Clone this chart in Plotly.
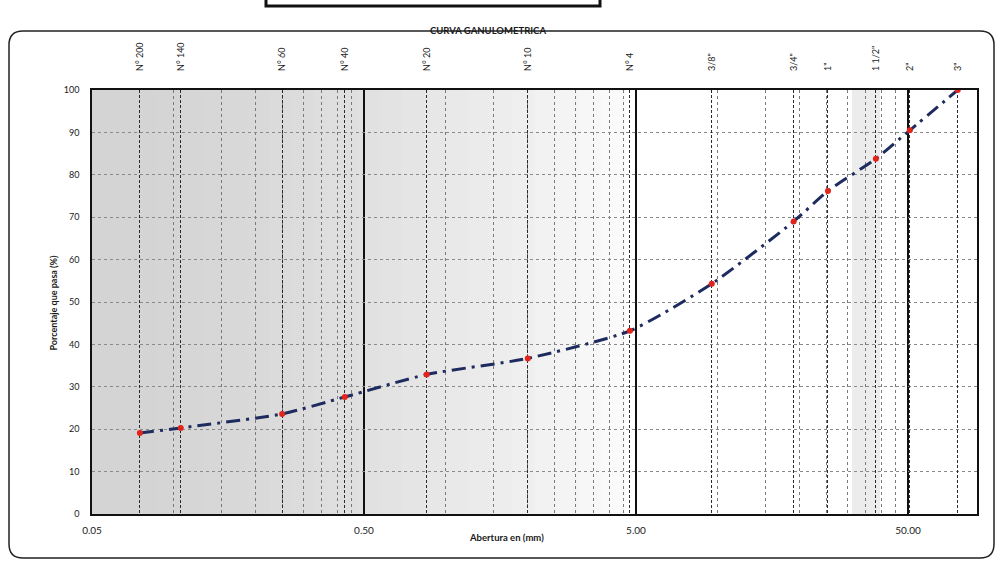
import math
import plotly.graph_objects as go

# Sieve series: name, opening (mm) and percent passing
sieve_names = ["N° 200", "N° 140", "N° 60", "N° 40", "N° 20", "N° 10", "N° 4",
               "3/8\"", "3/4\"", "1\"", "1 1/2\"", "2\"", "3\""]
opening_mm = [0.075, 0.106, 0.25, 0.425, 0.85, 2.0, 4.75,
              9.5, 19.0, 25.4, 38.1, 50.8, 76.2]
percent_passing = [19.1, 20.3, 23.6, 27.6, 32.9, 36.7, 43.2,
                   54.3, 69.0, 76.2, 83.8, 90.5, 100.0]

major_ticks = [0.05, 0.5, 5, 50]
major_labels = ["0.05", "0.50", "5.00", "50.00"]
minor_ticks = [0.05 * k for k in range(2, 10)] + [0.5 * k for k in range(2, 10)] + \
              [5 * k for k in range(2, 10)] + [50 * k for k in range(2, 10)]
y_ticks = list(range(0, 101, 10))

X_MIN, X_MAX = 0.05, 89.7
W, H = 1000, 564
ML, MR, MT, MB = 92, 23, 90, 50
PW, PH = W - ML - MR, H - MT - MB

FONT = "Lato"


def px(x):
    return (x - ML) / PW


def py(y):
    return (H - MB - y) / PH


fig = go.Figure()

# sieve axis along the top (carries the sieve names and their grid lines)
fig.add_trace(go.Scatter(
    x=opening_mm, y=percent_passing, xaxis="x2", yaxis="y",
    mode="markers", marker=dict(opacity=0), hoverinfo="skip", showlegend=False,
))

fig.add_trace(go.Scatter(
    x=opening_mm, y=percent_passing,
    mode="lines+markers",
    line=dict(color="#1d2b5e", width=3, shape="spline", smoothing=0.6,
              dash="14px,6px,3px,6px"),
    marker=dict(color="#e3241b", size=6, symbol="circle"),
    hoverinfo="x+y", showlegend=False,
))

shapes = []

# scanned-paper shading across the finer sieve region
n_strips = 24
for i in range(n_strips):
    t = i / (n_strips - 1)
    g = int(212 + (250 - 212) * t ** 1.6)
    shapes.append(dict(type="rect", xref="paper", yref="paper",
                       x0=i * 0.6 / n_strips, x1=(i + 1) * 0.6 / n_strips + 0.002,
                       y0=0, y1=1, fillcolor=f"rgb({g},{g},{g})",
                       line=dict(width=0), layer="below"))
shapes.append(dict(type="rect", xref="paper", yref="paper",
                   x0=px(852), x1=px(880), y0=0, y1=1,
                   fillcolor="#ececec", line=dict(width=0), layer="below"))

# rounded frame around the chart
r = 14
L, R, T, B = 9, 994, 31, 558
path = (f"M {px(L + r)},{py(T)} L {px(R - r)},{py(T)} "
        f"Q {px(R)},{py(T)} {px(R)},{py(T + r)} "
        f"L {px(R)},{py(B - r)} Q {px(R)},{py(B)} {px(R - r)},{py(B)} "
        f"L {px(L + r)},{py(B)} Q {px(L)},{py(B)} {px(L)},{py(B - r)} "
        f"L {px(L)},{py(T + r)} Q {px(L)},{py(T)} {px(L + r)},{py(T)} Z")
shapes.append(dict(type="path", xref="paper", yref="paper", path=path,
                   line=dict(color="#222222", width=1.5)))

# bottom edge of the box above the chart
top_box = (f"M {px(266)},{py(-4)} L {px(266)},{py(6)} "
           f"L {px(600)},{py(6)} L {px(600)},{py(-4)}")
shapes.append(dict(type="path", xref="paper", yref="paper", path=top_box,
                   line=dict(color="#111111", width=3)))

annotations = [
    dict(text="<b>CURVA GANULOMETRICA</b>", xref="paper", yref="paper",
         x=px(488), y=py(23), showarrow=False,
         font=dict(family=FONT, size=9.5, color="#1a1a1a")),
    dict(text="<b>Porcentaje que pasa (%)</b>", xref="paper", yref="paper",
         x=px(45), y=py(303), textangle=-90, showarrow=False,
         font=dict(family=FONT, size=9, color="#1a1a1a")),
    dict(text="<b>Abertura en (mm)</b>", xref="paper", yref="paper",
         x=px(506), y=py(545), showarrow=False,
         font=dict(family=FONT, size=9.5, color="#1a1a1a")),
]

fig.update_layout(
    width=W, height=H,
    margin=dict(l=ML, r=MR, t=MT, b=MB),
    paper_bgcolor="white", plot_bgcolor="white",
    shapes=shapes, annotations=annotations,
    xaxis=dict(
        type="log", range=[math.log10(X_MIN), math.log10(X_MAX)],
        tickmode="array", tickvals=major_ticks, ticktext=major_labels,
        tickfont=dict(family=FONT, size=10, color="#1a1a1a"),
        ticks="", ticklabelstandoff=6,
        showgrid=True, gridcolor="#111111", gridwidth=2,
        minor=dict(tickmode="array", tickvals=minor_ticks, showgrid=True,
                   gridcolor="#7a7a7a", gridwidth=1, griddash="dot", ticks=""),
        showline=True, linecolor="#111111", linewidth=1.5, mirror=True,
        zeroline=False,
    ),
    xaxis2=dict(
        type="log", range=[math.log10(X_MIN), math.log10(X_MAX)],
        overlaying="x", side="top", anchor="y",
        tickmode="array", tickvals=opening_mm, ticktext=sieve_names,
        tickangle=-90, ticks="", ticklabelstandoff=18,
        tickfont=dict(family=FONT, size=9, color="#1a1a1a"),
        showgrid=True, gridcolor="#2a2a2a", gridwidth=1.3, griddash="3px,2px",
        zeroline=False,
    ),
    yaxis=dict(
        range=[0, 100], tickmode="array", tickvals=y_ticks,
        tickfont=dict(family=FONT, size=9, color="#1a1a1a"),
        ticks="", ticklabelstandoff=9,
        showgrid=True, gridcolor="#8a8a8a", gridwidth=1, griddash="dot",
        showline=True, linecolor="#111111", linewidth=1.5, mirror=True,
        zeroline=False,
    ),
)

fig.write_html("out.html")
